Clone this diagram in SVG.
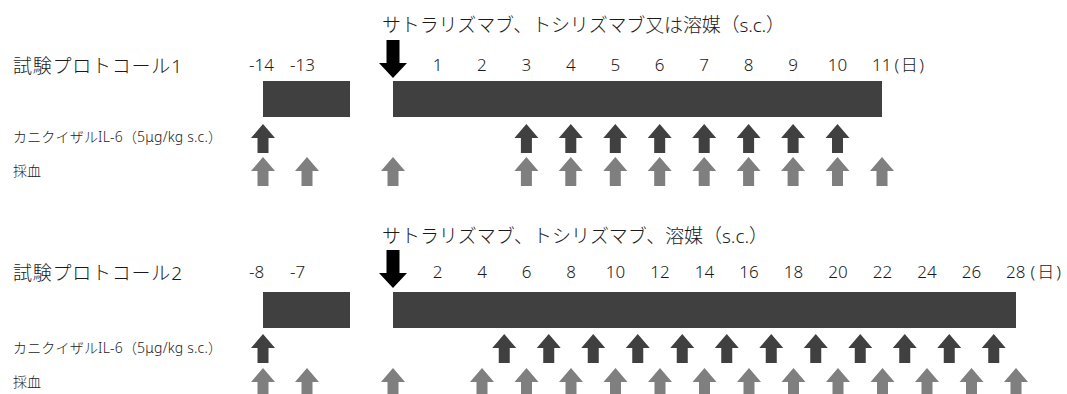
<svg xmlns="http://www.w3.org/2000/svg" xmlns:xlink="http://www.w3.org/1999/xlink" width="1067" height="394" viewBox="0 0 1067 394">
<style>
text{font-family:"Noto Sans","Noto Sans CJK JP",sans-serif;fill:#1a1a1a;font-weight:300}
.title{font-size:19px}
.head{font-size:19px}
.num{font-size:17px;text-anchor:middle}
.numl{font-size:17px}
.row{font-size:14px}
.bar{fill:#404040}
.dk{fill:#404040}
.gy{fill:#7f7f7f}
.bk{fill:#000}
</style>
<defs>
<path id="up" d="M0,0 L12,14 L5.5,14 L5.5,29 L-5.5,29 L-5.5,14 L-12,14 Z"/>
<path id="down" d="M0,0 L-14,-15 L-6.5,-15 L-6.5,-38 L6.5,-38 L6.5,-15 L14,-15 Z"/>
</defs>
<rect width="1067" height="394" fill="#fff"/>

<g id="protocol1">
  <g id="p1-title"><text class="title" x="13" y="73" textLength="169" lengthAdjust="spacing">試験プロトコール1</text></g>
  <g id="p1-header"><text class="head" x="382" y="32" textLength="403" lengthAdjust="spacing">サトラリズマブ、トシリズマブ又は溶媒（s.c.）</text></g>
  <g id="p1-days">
    <text class="numl" x="249" y="71">-14</text>
    <text class="numl" x="290" y="71">-13</text>
    <text class="num" x="437.5" y="71">1</text>
    <text class="num" x="481.9" y="71">2</text>
    <text class="num" x="526.4" y="71">3</text>
    <text class="num" x="570.8" y="71">4</text>
    <text class="num" x="615.3" y="71">5</text>
    <text class="num" x="659.7" y="71">6</text>
    <text class="num" x="704.2" y="71">7</text>
    <text class="num" x="748.6" y="71">8</text>
    <text class="num" x="793.1" y="71">9</text>
    <text class="num" x="837.5" y="71">10</text>
    <text class="numl" x="872" y="71">11<tspan dx="3" letter-spacing="1.5">(日)</tspan></text>
  </g>
  <g id="p1-rowlabels">
    <text class="row" x="13" y="142" textLength="209" lengthAdjust="spacing">カニクイザルIL-6（5μg/kg s.c.）</text>
    <text class="row" x="13" y="176">採血</text>
  </g>
  <g id="p1-bars">
    <rect class="bar" x="263" y="81" width="87" height="36"/>
    <rect class="bar" x="393" y="81" width="489" height="36"/>
  </g>
  <g id="p1-dose"><use xlink:href="#down" class="bk" x="393" y="78"/></g>
  <g id="p1-il6">
    <use xlink:href="#up" class="dk" x="263" y="124"/>
    <use xlink:href="#up" class="dk" x="526.4" y="124"/>
    <use xlink:href="#up" class="dk" x="570.8" y="124"/>
    <use xlink:href="#up" class="dk" x="615.3" y="124"/>
    <use xlink:href="#up" class="dk" x="659.7" y="124"/>
    <use xlink:href="#up" class="dk" x="704.2" y="124"/>
    <use xlink:href="#up" class="dk" x="748.6" y="124"/>
    <use xlink:href="#up" class="dk" x="793.1" y="124"/>
    <use xlink:href="#up" class="dk" x="837.5" y="124"/>
  </g>
  <g id="p1-blood">
    <use xlink:href="#up" class="gy" x="263" y="157"/>
    <use xlink:href="#up" class="gy" x="307" y="157"/>
    <use xlink:href="#up" class="gy" x="393" y="157"/>
    <use xlink:href="#up" class="gy" x="526.4" y="157"/>
    <use xlink:href="#up" class="gy" x="570.8" y="157"/>
    <use xlink:href="#up" class="gy" x="615.3" y="157"/>
    <use xlink:href="#up" class="gy" x="659.7" y="157"/>
    <use xlink:href="#up" class="gy" x="704.2" y="157"/>
    <use xlink:href="#up" class="gy" x="748.6" y="157"/>
    <use xlink:href="#up" class="gy" x="793.1" y="157"/>
    <use xlink:href="#up" class="gy" x="837.5" y="157"/>
    <use xlink:href="#up" class="gy" x="882" y="157"/>
  </g>
</g>

<g id="protocol2">
  <g id="p2-title"><text class="title" x="13" y="280" textLength="169" lengthAdjust="spacing">試験プロトコール2</text></g>
  <g id="p2-header"><text class="head" x="382" y="243" textLength="386" lengthAdjust="spacing">サトラリズマブ、トシリズマブ、溶媒（s.c.）</text></g>
  <g id="p2-days">
    <text class="numl" x="249" y="278">-8</text>
    <text class="numl" x="290" y="278">-7</text>
    <text class="num" x="437.5" y="278">2</text>
    <text class="num" x="482" y="278">4</text>
    <text class="num" x="526.5" y="278">6</text>
    <text class="num" x="571" y="278">8</text>
    <text class="num" x="615.5" y="278">10</text>
    <text class="num" x="660" y="278">12</text>
    <text class="num" x="704.5" y="278">14</text>
    <text class="num" x="749" y="278">16</text>
    <text class="num" x="793.5" y="278">18</text>
    <text class="num" x="838" y="278">20</text>
    <text class="num" x="882.5" y="278">22</text>
    <text class="num" x="927" y="278">24</text>
    <text class="num" x="971.5" y="278">26</text>
    <text class="numl" x="1006" y="278">28<tspan dx="5" letter-spacing="2">(日)</tspan></text>
  </g>
  <g id="p2-rowlabels">
    <text class="row" x="13" y="353" textLength="209" lengthAdjust="spacing">カニクイザルIL-6（5μg/kg s.c.）</text>
    <text class="row" x="13" y="387">採血</text>
  </g>
  <g id="p2-bars">
    <rect class="bar" x="263" y="292" width="87" height="36"/>
    <rect class="bar" x="393" y="292" width="623" height="36"/>
  </g>
  <g id="p2-dose"><use xlink:href="#down" class="bk" x="393" y="288"/></g>
  <g id="p2-il6">
    <use xlink:href="#up" class="dk" x="263" y="334"/>
    <use xlink:href="#up" class="dk" x="504.25" y="334"/>
    <use xlink:href="#up" class="dk" x="548.75" y="334"/>
    <use xlink:href="#up" class="dk" x="593.25" y="334"/>
    <use xlink:href="#up" class="dk" x="637.75" y="334"/>
    <use xlink:href="#up" class="dk" x="682.25" y="334"/>
    <use xlink:href="#up" class="dk" x="726.75" y="334"/>
    <use xlink:href="#up" class="dk" x="771.25" y="334"/>
    <use xlink:href="#up" class="dk" x="815.75" y="334"/>
    <use xlink:href="#up" class="dk" x="860.25" y="334"/>
    <use xlink:href="#up" class="dk" x="904.75" y="334"/>
    <use xlink:href="#up" class="dk" x="949.25" y="334"/>
    <use xlink:href="#up" class="dk" x="993.75" y="334"/>
  </g>
  <g id="p2-blood">
    <use xlink:href="#up" class="gy" x="263" y="368"/>
    <use xlink:href="#up" class="gy" x="307" y="368"/>
    <use xlink:href="#up" class="gy" x="393" y="368"/>
    <use xlink:href="#up" class="gy" x="482" y="368"/>
    <use xlink:href="#up" class="gy" x="526.5" y="368"/>
    <use xlink:href="#up" class="gy" x="571" y="368"/>
    <use xlink:href="#up" class="gy" x="615.5" y="368"/>
    <use xlink:href="#up" class="gy" x="660" y="368"/>
    <use xlink:href="#up" class="gy" x="704.5" y="368"/>
    <use xlink:href="#up" class="gy" x="749" y="368"/>
    <use xlink:href="#up" class="gy" x="793.5" y="368"/>
    <use xlink:href="#up" class="gy" x="838" y="368"/>
    <use xlink:href="#up" class="gy" x="882.5" y="368"/>
    <use xlink:href="#up" class="gy" x="927" y="368"/>
    <use xlink:href="#up" class="gy" x="971.5" y="368"/>
    <use xlink:href="#up" class="gy" x="1016" y="368"/>
  </g>
</g>
</svg>
